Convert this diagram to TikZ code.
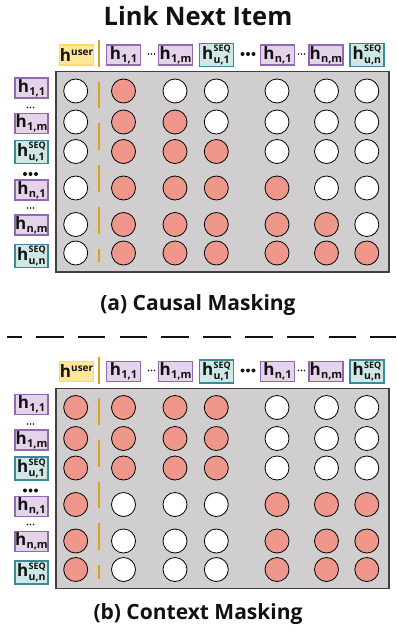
\documentclass[tikz,border=0pt]{standalone}
\usepackage{fontspec}
\setmainfont{Open Sans}
\definecolor{redc}{HTML}{F0978B}
\definecolor{gridbg}{HTML}{D0CECE}
\definecolor{purf}{HTML}{E4D3EA}
\definecolor{purd}{HTML}{8E6AAE}
\definecolor{tealf}{HTML}{CFE8E6}
\definecolor{teald}{HTML}{3A8A9A}
\definecolor{yelf}{HTML}{FFE699}
\definecolor{yeld}{HTML}{FFD966}
\definecolor{orl}{HTML}{D9A21B}
\definecolor{txt}{HTML}{111111}
\newcommand{\hsz}{\fontsize{17}{17}\selectfont}
\newcommand{\ssz}{\fontsize{11}{11}\selectfont}
\newcommand{\sqz}{\fontsize{9}{9}\selectfont}
\newcommand{\hlsub}[1]{\hsz h\kern0.2pt\raisebox{-3pt}{\ssz #1}}
\newcommand{\hlseq}[2]{\hsz h\kern0.2pt\ooalign{\raisebox{7.5pt}{\sqz #1}\cr\raisebox{-4pt}{\fontsize{10.5}{10.5}\selectfont #2}\cr}}
\newcommand{\hlsup}[1]{\hsz h\kern0.2pt\raisebox{6pt}{\fontsize{10}{10}\selectfont #1}}
\newcommand{\smalldots}[3]{\foreach \dd in {-3,0,3} \fill[txt] (#2+\dd,#3) circle (0.85);}
\newcommand{\bigdots}[3]{\foreach \dd in {-5.5,0,5.5} \fill[txt] (#2+\dd,#3) circle (2);}
\tikzset{
  lbl/.style={draw, line width=1.2pt, minimum width=34pt, minimum height=20pt, inner sep=0pt, font=\bfseries, text=txt},
  purp/.style={lbl, fill=purf, draw=purd},
  tealb/.style={lbl, fill=tealf, draw=teald, minimum height=23pt},
  yelb/.style={lbl, fill=yelf, draw=yeld},
  dotc/.style={circle, draw=black, line width=0.8pt, minimum size=24pt, inner sep=0pt},
  matbox/.style={fill=gridbg, draw=black!75, line width=1.2pt},
  orline/.style={draw=orl, line width=2pt},
  captext/.style={font=\bfseries\fontsize{21}{21}\selectfont, text=txt}
}
\newcommand{\drawpanel}[3]{%
\begin{scope}[yshift=-#2pt]
 \draw[matbox] (56,71.7) rectangle (389,272);
 \node[yelb] (#1-huser) at (76.5,55) {\hlsup{user}};
 \node[purp] (#1-c1) at (123.5,55) {\hlsub{1,1}};
 \node[purp] (#1-c2) at (175.5,55) {\hlsub{1,m}};
 \node[tealb] (#1-c3) at (216.5,55) {\hlseq{SEQ}{u,1}};
 \node[purp] (#1-c4) at (277.5,55) {\hlsub{n,1}};
 \node[purp] (#1-c5) at (326,55) {\hlsub{n,m}};
 \node[tealb] (#1-c6) at (367,55) {\hlseq{SEQ}{u,n}};
 \smalldots{#1}{151.5}{54}
 \bigdots{#1}{248}{54}
 \smalldots{#1}{301.5}{54}
 \draw[orline] (98.7,40) -- (98.7,67);
 \draw[orline, dash pattern=on 26.7pt off 15pt] (98.7,81.7) -- (98.7,262);
 \foreach \ry [count=\ri] in {91,122,151.5,188,224.5,253} {
   \foreach \cx [count=\ci from 0] in {75.7,123.5,175,216.3,277,326.5,366.8} {
     \pgfmathtruncatemacro\isred{#3}
     \ifnum\isred=1 \def\fc{redc}\else\def\fc{white}\fi
     \node[dotc, fill=\fc] (#1-m\ri-\ci) at (\cx,\ry) {};
   }
 }
 \node[purp, minimum width=33pt] (#1-r1) at (31.5,88) {\hlsub{1,1}};
 \node[purp, minimum width=33pt] (#1-r2) at (31.5,123.5) {\hlsub{1,m}};
 \node[tealb, minimum width=33pt] (#1-r3) at (31.5,152) {\hlseq{SEQ}{u,1}};
 \node[purp, minimum width=33pt] (#1-r4) at (31.5,190) {\hlsub{n,1}};
 \node[purp, minimum width=33pt] (#1-r5) at (31.5,225) {\hlsub{n,m}};
 \node[tealb, minimum width=33pt] (#1-r6) at (31.5,256) {\hlseq{SEQ}{u,n}};
 \smalldots{#1}{30.5}{107.5}
 \bigdots{#1}{30.5}{174}
 \smalldots{#1}{30.5}{208}
\end{scope}}

\begin{document}
\begin{tikzpicture}[x=1pt, y=-1pt]
\useasboundingbox (0,0) rectangle (396,634);
\node[font=\bfseries\fontsize{25.5}{25.5}\selectfont, text=txt] (title) at (198,16) {Link Next Item};
\drawpanel{a}{0}{(\ci>=1)&&(\ci<=\ri)}
\node[captext] (capa) at (198,305) {(a) Causal Masking};
\draw[draw=txt, line width=2.2pt, dash pattern=on 27.5pt off 14.3pt, dash phase=12.5pt] (6.7,337) -- (396,337);
\drawpanel{b}{316.5}{(\ci==0)||((\ci<=3)&&(\ri<=3))||((\ci>=4)&&(\ri>=4))}
\node[captext] (capb) at (198,614) {(b) Context Masking};
\end{tikzpicture}
\end{document}
